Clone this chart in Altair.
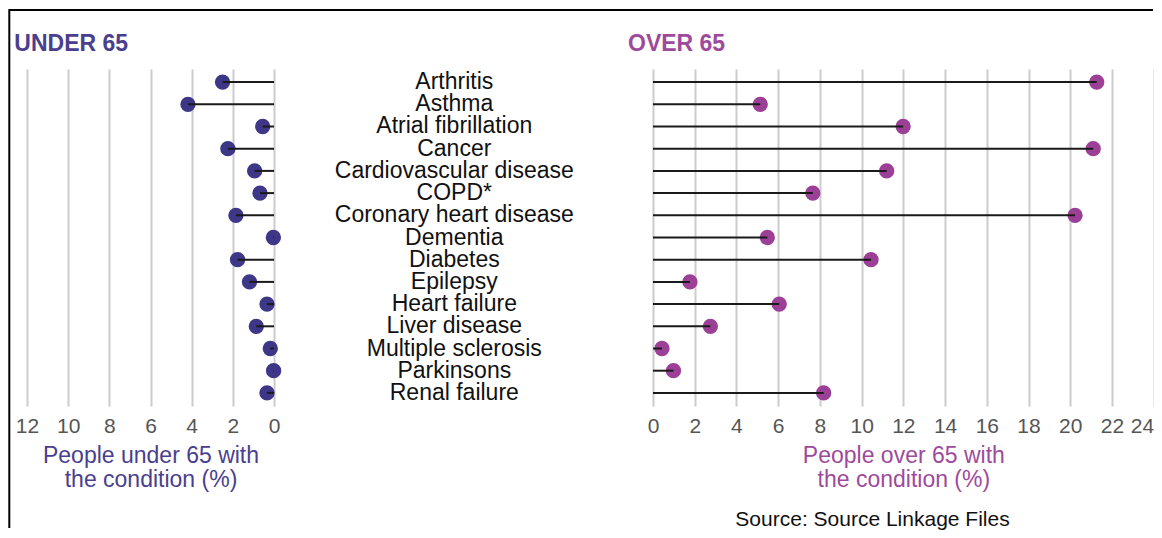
import altair as alt
import pandas as pd

# ---- data ----
conditions = [
    "Arthritis", "Asthma", "Atrial fibrillation", "Cancer",
    "Cardiovascular disease", "COPD*", "Coronary heart disease", "Dementia",
    "Diabetes", "Epilepsy", "Heart failure", "Liver disease",
    "Multiple sclerosis", "Parkinsons", "Renal failure",
]
under_65 = [2.50, 4.18, 0.55, 2.24, 0.94, 0.68, 1.85, 0.03, 1.77, 1.19, 0.34, 0.86, 0.18, 0.02, 0.34]
over_65 = [21.27, 5.14, 11.99, 21.10, 11.20, 7.66, 20.23, 5.48, 10.45, 1.77, 6.05, 2.75, 0.43, 0.98, 8.18]
under_ticks = [0, 2, 4, 6, 8, 10, 12]
over_ticks = [0, 2, 4, 6, 8, 10, 12, 14, 16, 18, 20, 22, 24]
under_title = ["People under 65 with", "the condition (%)"]
over_title = ["People over 65 with", "the condition (%)"]
source_text = ["Source: Source Linkage Files"]

df = pd.DataFrame({"condition": conditions, "under": under_65, "over": over_65})
df["zero"] = 0.0

FONT = "Liberation Sans"
UNDER_COLOR = "#3e3787"
OVER_COLOR = "#9b3f97"
UNDER_TITLE = "#4a3f8e"
OVER_TITLE = "#9e4a9c"
H = 337

yenc = alt.Y("condition:N", sort=conditions,
             scale=alt.Scale(type="point", padding=0.59), axis=None)


def xaxis(ticks, title, tcolor, last_right=None):
    kw = {}
    if last_right is not None:
        kw["labelAlign"] = {"condition": {"test": f"datum.value == {last_right}",
                                          "value": "right"},
                            "value": "center"}
    return alt.Axis(values=ticks, grid=True, gridColor="#cccccc", gridWidth=2,
                    ticks=False, tickSize=0, domain=False, labelPadding=9,
                    labelFlush=False, labelOverlap=False,
                    labelFont=FONT, labelFontSize=21, labelColor="#555555",
                    title=title, titleFont=FONT, titleFontSize=23,
                    titleFontWeight="normal", titleColor=tcolor,
                    titleBaseline="alphabetic", titleY=56, titleLineHeight=24,
                    **kw)


def label_chart(text, color, dx):
    return alt.Chart(pd.DataFrame({"t": [text]})).mark_text(
        align="left", baseline="alphabetic", font=FONT, fontSize=23,
        fontWeight="bold", color=color
    ).encode(text="t:N", x=alt.value(dx), y=alt.value(-18.5))


# ---- left panel (under 65) ----
base_l = alt.Chart(df).encode(y=yenc)
dots_l = base_l.mark_circle(size=235, opacity=1, color=UNDER_COLOR).encode(
    x=alt.X("under:Q", scale=alt.Scale(domain=[0, 12], reverse=True, nice=False),
            axis=xaxis(under_ticks, under_title, UNDER_TITLE))
)
sticks_l = base_l.mark_rule(color="#1a1a1a", strokeWidth=2).encode(
    x="zero:Q", x2="under:Q"
)
dummy = pd.DataFrame({"a": [0]})
frame_top = alt.Chart(dummy).mark_rule(color="black", strokeWidth=2).encode(
    x=alt.value(-17.7), x2=alt.value(1126), y=alt.value(-59)
)
frame_left = alt.Chart(dummy).mark_rule(color="black", strokeWidth=2).encode(
    x=alt.value(-17.7), y=alt.value(-60), y2=alt.value(459)
)
left = alt.layer(dots_l, sticks_l, label_chart("UNDER 65", UNDER_TITLE, -12.7),
                 frame_top, frame_left).properties(width=247, height=H)

# ---- middle labels ----
mid = alt.Chart(df).mark_text(font=FONT, fontSize=23, color="#111111",
                              align="center", baseline="middle").encode(
    y=yenc, x=alt.value(180.3), text="condition:N"
).properties(width=378.3, height=H)

# ---- right panel (over 65) ----
base_r = alt.Chart(df).encode(y=yenc)
dots_r = base_r.mark_circle(size=235, opacity=1, color=OVER_COLOR).encode(
    x=alt.X("over:Q", scale=alt.Scale(domain=[0, 24], nice=False),
            axis=xaxis(over_ticks, over_title, OVER_TITLE, last_right=24))
)
sticks_r = base_r.mark_rule(color="#1a1a1a", strokeWidth=2).encode(
    x="zero:Q", x2="over:Q"
)
source = alt.Chart(pd.DataFrame({"s": source_text})).mark_text(
    align="center", baseline="alphabetic", font=FONT, fontSize=21, color="#111111"
).encode(text="s:N", x=alt.value(219.5), y=alt.value(456.5))
right = alt.layer(dots_r, sticks_r, label_chart("OVER 65", OVER_TITLE, -25),
                  source).properties(width=500.7, height=H)

chart = alt.hconcat(left, mid, right, spacing=0, bounds="flush").properties(
    padding=0
).configure_view(stroke=None)

chart.save("out.html", embed_options={"renderer": "svg", "actions": False})
